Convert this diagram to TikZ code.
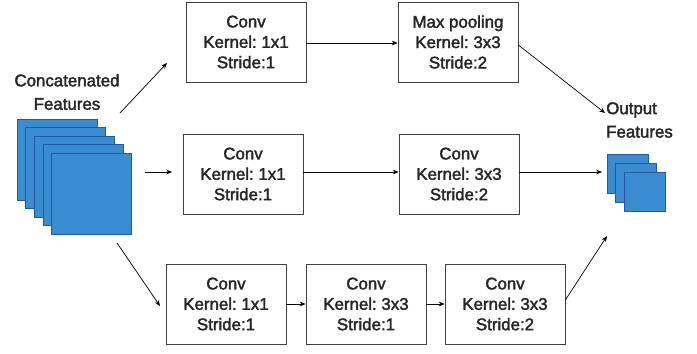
\documentclass[tikz,border=0pt]{standalone}
\usepackage{fontspec}
\setmainfont{Liberation Sans}
\usetikzlibrary{arrows.meta}
\definecolor{featblue}{HTML}{3A8DD1}
\definecolor{featedge}{HTML}{2458A0}
\frenchspacing
% slightly heavier strokes for the labels
\newcommand{\heavyon}{\special{pdf:literal direct 2 Tr 0.3 w}}
\newcommand{\heavyoff}{\special{pdf:literal direct 0 Tr}}

\begin{document}
\begin{tikzpicture}[
  x=0.03cm, y=-0.03cm,
  layer/.style={draw=black!75, line width=0.6pt, minimum width=3.6cm,
                minimum height=2.4cm, align=center, inner sep=0pt,
                font=\fontsize{14.4}{17.4}\selectfont, text=black!85,
                execute at begin node=\heavyon, execute at end node=\heavyoff},
  fmap/.style={draw=featedge, fill=featblue, line width=0.6pt, inner sep=0pt},
  caption/.style={align=center, font=\fontsize{14.4}{20}\selectfont,
                  text=black!85,
                  execute at begin node=\heavyon, execute at end node=\heavyoff},
  flow/.style={-{Stealth[length=5pt,width=4pt]}, line width=0.6pt},
]
\useasboundingbox (0,0) rectangle (697,353);

% Input feature maps
\foreach \i in {0,...,4}
  \node[fmap, minimum width=2.4cm, minimum height=2.43cm]
    (in\i) at (57+8.7*\i,159.5+8.5*\i) {};
\node[caption] (incap) at (67,92) {Concatenated\\Features};

% Output feature maps
\foreach \j in {0,1,2}
  \node[fmap, minimum width=1.23cm, minimum height=1.17cm]
    (out\j) at (627.5+8.5*\j,173.5+9*\j) {};
\node[caption, align=left, anchor=west, inner sep=0pt] (outcap) at (606,120)
  {Output\\Features};

% Top branch
\node[layer] (top1) at (246,42) {Conv\\Kernel: 1x1\\Stride:1};
\node[layer] (top2) at (458,42) {Max pooling\\Kernel: 3x3\\Stride:2};

% Middle branch
\node[layer] (mid1) at (243,174) {Conv\\Kernel: 1x1\\Stride:1};
\node[layer] (mid2) at (459,174) {Conv\\Kernel: 3x3\\Stride:2};

% Bottom branch
\node[layer] (bot1) at (226,304) {Conv\\Kernel: 1x1\\Stride:1};
\node[layer] (bot2) at (366,304) {Conv\\Kernel: 3x3\\Stride:1};
\node[layer] (bot3) at (505,304) {Conv\\Kernel: 3x3\\Stride:2};

% Free arrow ends
\coordinate (upS) at (120,113);
\coordinate (upE) at (167,63);
\coordinate (midS) at (145,172);
\coordinate (midE) at (172,172);
\coordinate (lowS) at (117,243);
\coordinate (lowE) at (160,306);
\coordinate (topO) at (605,113);
\coordinate (midO) at (602,172);
\coordinate (botO) at (607,236);

% Arrows
\draw[flow] (upS) -- (upE);
\draw[flow] (midS) -- (midE);
\draw[flow] (lowS) -- (lowE);

\draw[flow] (top1.east |- 0,43) -- (top2.west |- 0,43);
\draw[flow] (top2.east |- 0,45) -- (topO);

\draw[flow] (mid1.east |- 0,172) -- (mid2.west |- 0,172);
\draw[flow] (mid2.east |- 0,172) -- (midO);

\draw[flow] (bot1) -- (bot2);
\draw[flow] (bot2) -- (bot3);
\draw[flow] (bot3.east |- 0,300) -- (botO);

\end{tikzpicture}
\end{document}
